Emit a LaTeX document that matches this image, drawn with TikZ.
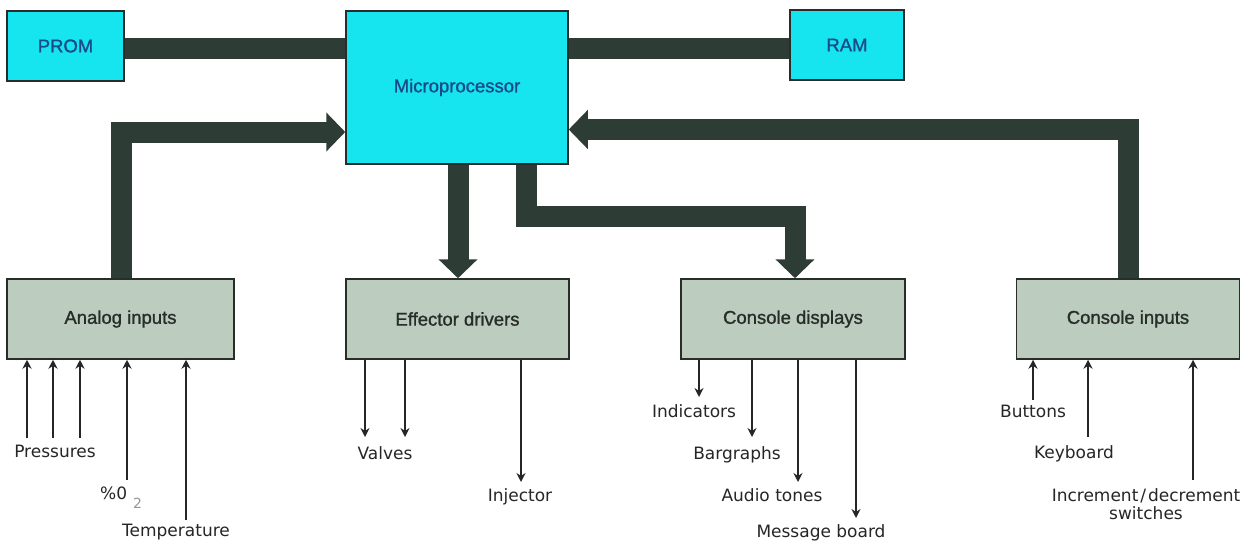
\documentclass[tikz,border=0pt]{standalone}
\usepackage{fontspec}
\setmainfont{Liberation Sans}
\newfontfamily\boxfont{Liberation Sans}[FakeBold=1.2]
\newfontfamily\lblfont{DejaVu Sans}
\usetikzlibrary{arrows.meta}

\definecolor{chipcyan}{RGB}{22,228,238}
\definecolor{chipblue}{RGB}{25,75,135}
\definecolor{iobox}{RGB}{188,204,190}
\definecolor{busdark}{RGB}{45,60,52}
\definecolor{edgecol}{RGB}{40,45,42}
\definecolor{subgray}{RGB}{150,150,150}

\begin{document}
\begin{tikzpicture}[x=1pt,y=-1pt,
  chip/.style={draw=edgecol, line width=1.5pt, fill=chipcyan, text=chipblue,
    font=\boxfont\fontsize{18.5}{20}\selectfont, inner sep=0pt},
  iounit/.style={draw=edgecol, line width=1.5pt, fill=iobox, text=edgecol,
    minimum height=80pt, font=\boxfont\fontsize{18.5}{20}\selectfont, inner sep=0pt},
  bus/.style={draw=busdark, line width=21pt, line join=miter},
  bushead/.style={-{Triangle[width=38pt,length=19pt]}},
  sig/.style={draw=black!85, line width=1.8pt, -{Stealth[length=9pt,width=9pt,inset=3pt]}},
  lbl/.style={font=\lblfont\fontsize{17}{20}\selectfont, text=black!85, inner sep=0pt, anchor=base}
]
\useasboundingbox (0,0) rectangle (1241,541);
\fill[white] (0,0) rectangle (1241,541);

% processor, memories and I/O units
\node[chip, minimum width=117pt, minimum height=70pt] (prom) at (65.5,46) {PROM};
\node[chip, minimum width=222pt, minimum height=153pt] (mp) at (457,87.5) {Microprocessor};
\node[chip, minimum width=114pt, minimum height=70pt] (ram) at (847,45) {RAM};

\node[iounit, minimum width=227pt] (ana) at (120.5,319) {Analog inputs};
\node[iounit, minimum width=223pt] (eff) at (457.5,319) {Effector drivers};
\node[iounit, minimum width=224pt] (cdis) at (793,319) {Console displays};
\node[iounit, minimum width=223pt] (cin) at (1128,319) {Console inputs};

% wide data paths
\draw[bus] (prom.east |- 0,48) -- (mp.west |- 0,48);
\draw[bus] (mp.east |- 0,48) -- (ram.west |- 0,48);
\draw[bus, bushead] ([xshift=1pt]ana.north) |- ([yshift=-44.5pt]mp.west);
\draw[bus, bushead] (cin.north) |- ([yshift=-42pt]mp.east);
\draw[bus, bushead] ([xshift=1pt]mp.south) -- ([xshift=0.5pt]eff.north);
\coordinate (dbend) at (0,216);
\draw[bus, bushead] ([xshift=69pt]mp.south) |- ([xshift=2pt]cdis.north |- dbend)
  -- ([xshift=2pt]cdis.north);

% analog input signals
\coordinate (a1) at (27,438);
\coordinate (a2) at (53,438);
\coordinate (a3) at (80,438);
\coordinate (a4) at (127,480);
\coordinate (a5) at (186,520);
\foreach \p in {a1,a2,a3,a4,a5} \draw[sig] (\p) -- (\p |- ana.south);

% effector outputs
\coordinate (e1) at (365,437);
\coordinate (e2) at (405,437);
\coordinate (e3) at (521,482);
\foreach \p in {e1,e2,e3} \draw[sig] (\p |- eff.south) -- (\p);

% display outputs
\coordinate (d1) at (699,397);
\coordinate (d2) at (752,437);
\coordinate (d3) at (798,482);
\coordinate (d4) at (856,518);
\foreach \p in {d1,d2,d3,d4} \draw[sig] (\p |- cdis.south) -- (\p);

% console input signals
\coordinate (c1) at (1033,400);
\coordinate (c2) at (1088,437);
\coordinate (c3) at (1193,480);
\foreach \p in {c1,c2,c3} \draw[sig] (\p) -- (\p |- cin.south);

% signal names
\node[lbl] (lpress) at (55,457) {Pressures};
\node[lbl, anchor=base west] (lox) at (100,499) {\%0\hspace{6pt}{\color{subgray}\raisebox{-9pt}{\fontsize{14}{16}\selectfont 2}}};
\node[lbl] (ltemp) at (176,536) {Temperature};
\node[lbl] (lvalve) at (385,459) {Valves};
\node[lbl] (linj) at (520,501) {Injector};
\node[lbl] (lind) at (694,417) {Indicators};
\node[lbl] (lbar) at (737,459) {Bargraphs};
\node[lbl] (laud) at (772,501) {Audio tones};
\node[lbl] (lmsg) at (821,537) {Message board};
\node[lbl] (lbut) at (1033,417) {Buttons};
\node[lbl] (lkey) at (1074,458) {Keyboard};
\node[lbl] (linc) at (1146,501) {Increment\hspace{2pt}/\hspace{2pt}decrement};
\node[lbl] (lsw) at (1146,519) {switches};
\end{tikzpicture}
\end{document}
